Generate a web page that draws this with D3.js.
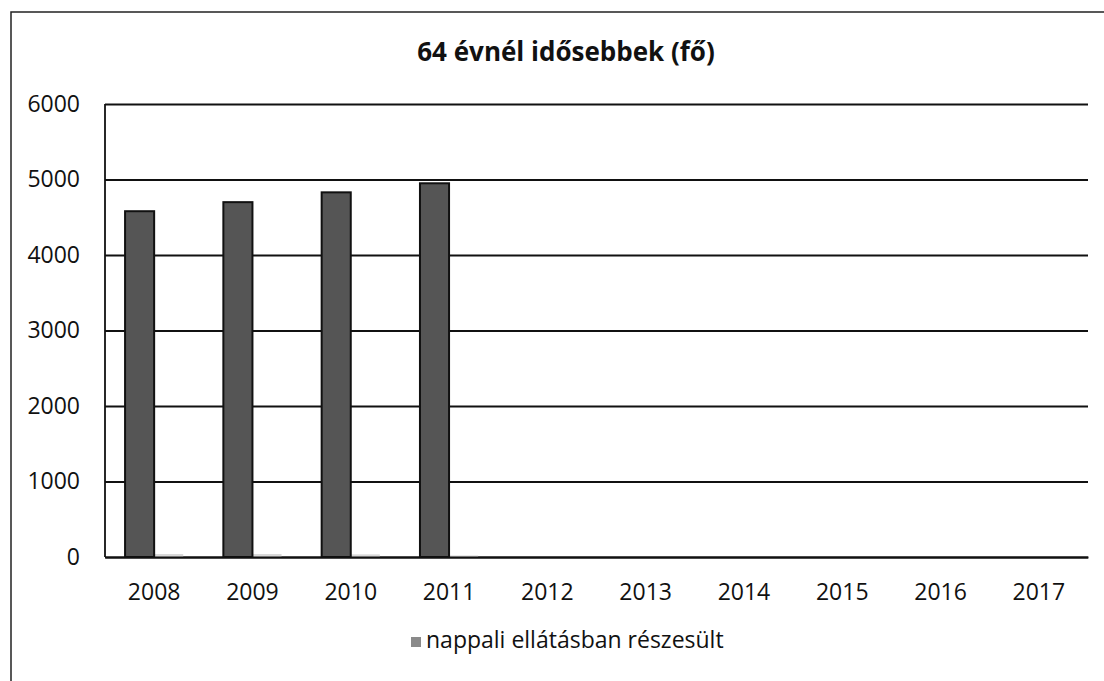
<!DOCTYPE html>
<html>
<head>
<meta charset="utf-8">
<script src="https://cdn.jsdelivr.net/npm/d3@7"></script>
<style>
  body { margin: 0; background: #fff; }
  text { font-family: "Open Sans", sans-serif; fill: #111; }
</style>
</head>
<body>
<div id="chart"></div>
<script>
        var years = ["2008", "2009", "2010", "2011", "2012", "2013", "2014", "2015", "2016", "2017"];
        var nappali = [4580, 4700, 4830, 4950, null, null, null, null, null, null];
        // faint leftovers of a second series in the scan
        var masik = [40, 40, 35, 20, null, null, null, null, null, null];
        var seriesNames = ["nappali ellátásban részesült", "masik"];
        var yTicks = [0, 1000, 2000, 3000, 4000, 5000, 6000];
        var chartTitle = "64 évnél idősebbek (fő)";

        var fullwidth = 1104;
        var fullheight = 681;
        var margin = {top: 104, right: 16, bottom: 124, left: 105};

        var width = fullwidth - margin.left - margin.right;
        var height = fullheight - margin.top - margin.bottom;

        var root = d3.select("#chart")
                    .append("svg")
                    .attr("width", fullwidth)
                    .attr("height", fullheight);

        // outer frame of the scanned chart
        root.append("rect")
            .attr("x", 11)
            .attr("y", 12)
            .attr("width", 1120)
            .attr("height", 720)
            .attr("fill", "none")
            .attr("stroke", "#222")
            .attr("stroke-width", 1.5);

        root.append("text")
            .attr("x", 566)
            .attr("y", 61)
            .attr("text-anchor", "middle")
            .style("font-size", "26px")
            .style("font-weight", "bold")
            .text(chartTitle);

        var svg = root.append("g")
                    .attr("transform", "translate(" + margin.left + "," + margin.top + ")");

        var xScale = d3.scaleBand()
                        .domain(years)
                        .range([0, width])
                        .padding(0);

        var xSub = d3.scaleBand()
                        .domain(seriesNames)
                        .range([0, xScale.bandwidth()])
                        .paddingInner(0)
                        .paddingOuter(0.69);

        var yScale = d3.scaleLinear()
                        .domain([0, 6000])
                        .range([height, 0]);

        var yAxis = d3.axisLeft(yScale)
                        .tickValues(yTicks)
                        .tickSize(-width)
                        .tickPadding(25)
                        .tickFormat(d3.format("d"));

        var xAxis = d3.axisBottom(xScale)
                        .tickSize(0)
                        .tickPadding(27);

        //gridlines + y labels
        var gy = svg.append("g")
            .attr("class", "y axis")
            .call(yAxis);
        gy.select(".domain").remove();
        gy.selectAll("line")
            .attr("stroke", "#111")
            .attr("stroke-width", 1.8);
        gy.selectAll("text")
            .style("font-size", "23px")
            .style("font-family", "Open Sans, sans-serif")
            .attr("fill", "#111");

        //left axis line
        svg.append("line")
            .attr("x1", 0).attr("x2", 0)
            .attr("y1", 0).attr("y2", height)
            .attr("stroke", "#111")
            .attr("stroke-width", 1.8);

        //second (faint) series
        svg.selectAll(".bar2")
            .data(years.filter(function(d, i) { return masik[i] != null; }))
            .enter()
            .append("rect")
            .attr("class", "bar2")
            .attr("x", function(d) { return xScale(d) + xSub(seriesNames[1]); })
            .attr("width", xSub.bandwidth())
            .attr("y", function(d) { return yScale(masik[years.indexOf(d)]); })
            .attr("height", function(d) { return height - yScale(masik[years.indexOf(d)]); })
            .attr("fill", "#d9d9d9");

        //main bars
        svg.selectAll(".bar")
            .data(years.filter(function(d, i) { return nappali[i] != null; }))
            .enter()
            .append("rect")
            .attr("class", "bar")
            .attr("x", function(d) { return xScale(d) + xSub(seriesNames[0]); })
            .attr("width", xSub.bandwidth())
            .attr("y", function(d) { return yScale(nappali[years.indexOf(d)]); })
            .attr("height", function(d) { return height - yScale(nappali[years.indexOf(d)]); })
            .attr("fill", "#555")
            .attr("stroke", "#111")
            .attr("stroke-width", 2);

        var gx = svg.append("g")
            .attr("class", "x axis")
            .attr("transform", "translate(0," + height + ")")
            .call(xAxis);
        gx.select(".domain")
            .attr("stroke", "#111")
            .attr("stroke-width", 1.8);
        gx.selectAll("text")
            .style("font-size", "23px")
            .style("font-family", "Open Sans, sans-serif")
            .attr("fill", "#111");

        //legend
        var legend = root.append("g")
            .attr("transform", "translate(411,637)");
        legend.append("rect")
            .attr("width", 10)
            .attr("height", 10)
            .attr("fill", "#8a8a8a");
        legend.append("text")
            .attr("x", 15)
            .attr("y", 11)
            .style("font-size", "23px")
            .text(seriesNames[0]);
</script>
</body>
</html>
